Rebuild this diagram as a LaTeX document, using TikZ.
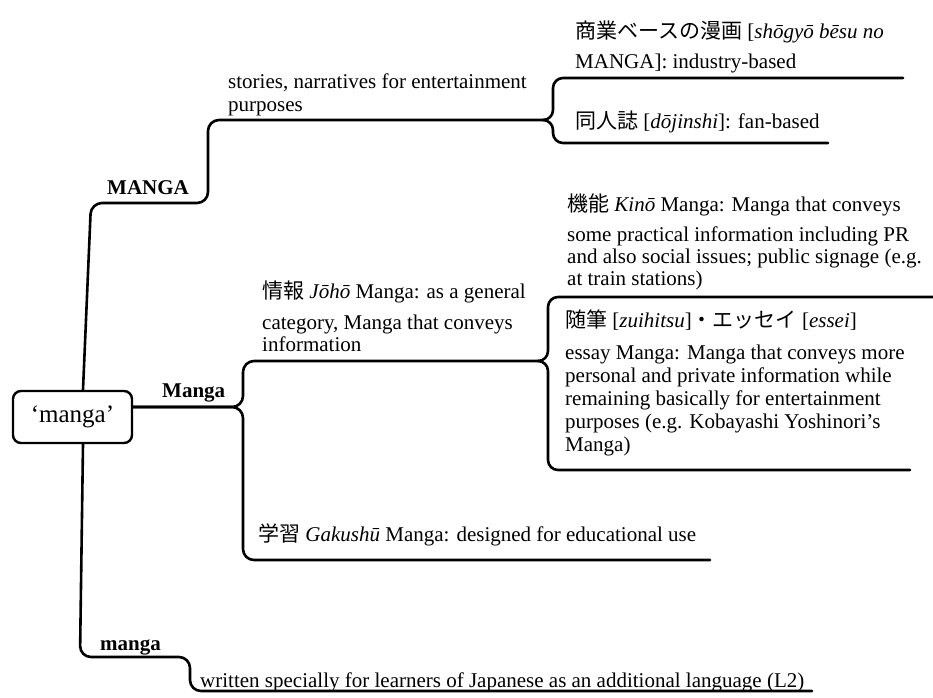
\documentclass[tikz,border=0pt]{standalone}
\usepackage{fontspec}
\setmainfont{Liberation Serif}
\newfontfamily\jpfont{Noto Sans CJK JP}
\newcommand{\J}[1]{{\jpfont #1}}
\begin{document}
\begin{tikzpicture}[x=1pt,y=-1pt,
  conn/.style={line width=2.6pt, rounded corners=11pt, line cap=round},
  bconn/.style={line width=2.6pt, line cap=round},
  txt/.style={anchor=base west, inner sep=0pt, align=left, font=\fontsize{21}{23}\selectfont},
  lab/.style={anchor=base west, inner sep=0pt, font=\fontsize{21}{23}\selectfont\bfseries},
  rootbox/.style={draw, line width=2.4pt, rounded corners=8pt, minimum width=119pt, minimum height=52pt, inner sep=0pt, font=\fontsize{25}{28}\selectfont}]
\useasboundingbox (0,0) rectangle (933,697);

% root
\node[rootbox] (root) at (72.5,417) {‘manga’};

% named points
\coordinate (sp) at (83,0);
\coordinate (ua) at (91,203);
\coordinate (ub) at (208,203);
\coordinate (uc) at (208,120);
\coordinate (ut) at (543,120);
\coordinate (t1) at (903,78);
\coordinate (t2) at (828,143);
\coordinate (mj) at (243,407);
\coordinate (jt) at (538,361);
\coordinate (gk) at (710,560);
\coordinate (j1) at (933,297);
\coordinate (j2) at (910,470);
\coordinate (la) at (80,657);
\coordinate (lb) at (190,657);
\coordinate (lc) at (190,691);
\coordinate (ld) at (812,691);

% upper branch
\draw[conn] (root.north -| sp) -- (ua) -- (ub) -- (uc) -- (ut);
\draw[bconn] (t1) -- (563,78) to[out=180,in=90] (553,88) -- (553,110) to[out=-90,in=0] (ut);
\draw[bconn] (ut) to[out=0,in=90] (553,130) -- (553,133) to[out=-90,in=180] (563,143) -- (t2);

% middle branch
\draw[conn] (root.north east |- mj) -- (mj) -- (243,361) -- (jt);
\draw[conn] (root.north east |- mj) -- (mj) -- (243,560) -- (gk);
\draw[bconn] (j1) -- (558,297) to[out=180,in=90] (548,307) -- (548,351) to[out=-90,in=0] (jt);
\draw[bconn] (jt) to[out=0,in=90] (548,371) -- (548,460) to[out=-90,in=180] (558,470) -- (j2);

% lower branch
\draw[conn] (root.south -| sp) -- (la) -- (lb) -- (lc) -- (ld);

% texts (multi-line nodes: base = baseline of last line)
\node[txt] (shogyo) at (575,68) {\J{商業ベースの漫画} [\textit{shōgyō bēsu no}\\[7pt]MANGA]: industry-based};
\node[txt] (dojin) at (575,128) {\J{同人誌} [\textit{dōjinshi}]: fan-based};
\node[txt] (stories) at (228,111) {stories, narratives for entertainment\\purposes};
\node[lab] (MANGA) at (107,194) {MANGA};
\node[txt] (kino) at (567,285) {\J{機能} \textit{Kinō} Manga: Manga that conveys\\[7pt]some practical information including PR\\[-1pt]and also social issues; public signage (e.g.\\[-1pt]at train stations)};
\node[txt] (joho) at (262,351) {\J{情報} \textit{Jōhō} Manga: as a general\\[8pt]category, Manga that conveys\\[-1pt]information};
\node[lab] (Manga) at (162,397) {Manga};
\node[txt] (zui) at (565,451) {\J{随筆} [\textit{zuihitsu}]\J{・エッセイ} [\textit{essei}]\\[9pt]essay Manga: Manga that conveys more\\personal and private information while\\remaining basically for entertainment\\purposes (e.g. Kobayashi Yoshinori’s\\Manga)};
\node[txt] (gaku) at (258,541) {\J{学習} \textit{Gakushū} Manga: designed for educational use};
\node[lab] (mlow) at (100,650) {manga};
\node[txt] (written) at (200,687) {written specially for learners of Japanese as an additional language (L2)};
\end{tikzpicture}
\end{document}
